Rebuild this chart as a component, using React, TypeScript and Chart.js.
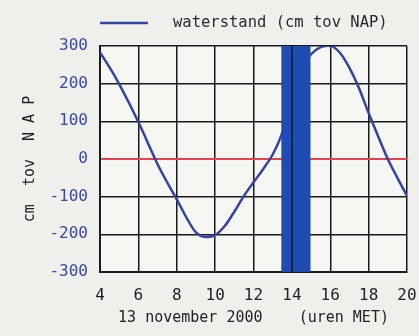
import { useEffect, useRef } from 'react';
import { Chart, registerables } from 'chart.js';

Chart.register(...registerables);

const hours = [4, 4.5, 5, 5.5, 6, 6.5, 7, 7.5, 8, 8.5, 9, 9.5, 10, 10.5, 11, 11.5, 12, 12.5, 13, 13.5, 14, 14.5, 15, 15.5, 16, 16.5, 17, 17.5, 18, 18.5, 19, 19.5, 20];
const waterstand = [283, 243, 199, 150, 98, 42, -14, -62, -107, -155, -195, -207, -202, -178, -140, -98, -62, -27, 12, 70, 165, 240, 278, 297, 301, 282, 242, 188, 122, 60, 0, -50, -98];
const xTickValues = [4, 6, 8, 10, 12, 14, 16, 18, 20];
const yTickValues = [-300, -200, -100, 0, 100, 200, 300];
const seriesLabel = 'waterstand (cm tov NAP)';
const xTitle = '13 november 2000    (uren MET)';
const yTitle = 'cm  tov  N A P';
const bandStart = 13.45;
const bandEnd = 14.97;

const MONO = '"DejaVu Sans Mono", monospace';
const GRID = '#1a1a1a';

export default function App() {
  const ref = useRef<HTMLCanvasElement>(null);

  useEffect(() => {
    document.body.style.margin = '0';
    const canvas = ref.current;
    if (!canvas) return;

    const bgPlugin = {
      id: 'bgBand',
      beforeDraw(chart: any) {
        const { ctx, chartArea } = chart;
        ctx.save();
        ctx.fillStyle = '#efefeb';
        ctx.fillRect(0, 0, chart.width, chart.height);
        ctx.fillStyle = '#f6f6f3';
        ctx.fillRect(chartArea.left, chartArea.top, chartArea.right - chartArea.left, chartArea.bottom - chartArea.top);
        ctx.restore();
      },
      afterDatasetsDraw(chart: any) {
        const { ctx, chartArea, scales } = chart;
        const x0 = scales.x.getPixelForValue(bandStart);
        const x1 = scales.x.getPixelForValue(bandEnd);
        ctx.save();
        ctx.fillStyle = '#1f4cb3';
        ctx.fillRect(x0, chartArea.top, x1 - x0, chartArea.bottom - chartArea.top);
        ctx.strokeStyle = GRID;
        ctx.lineWidth = 1.5;
        xTickValues
          .filter((v) => v > bandStart && v < bandEnd)
          .forEach((v) => {
            const px = scales.x.getPixelForValue(v);
            ctx.beginPath();
            ctx.moveTo(px, chartArea.top);
            ctx.lineTo(px, chartArea.bottom);
            ctx.stroke();
          });
        ctx.restore();
      },
    };

    const legendPlugin = {
      id: 'lineLegend',
      afterDraw(chart: any) {
        const { ctx, chartArea } = chart;
        const ds = chart.data.datasets[0];
        const y = 23;
        ctx.save();
        ctx.strokeStyle = ds.borderColor;
        ctx.lineWidth = 2.5;
        ctx.beginPath();
        ctx.moveTo(chartArea.left, y);
        ctx.lineTo(chartArea.left + 48, y);
        ctx.stroke();
        ctx.font = '15.5px ' + MONO;
        ctx.fillStyle = '#2a2a2a';
        ctx.textBaseline = 'middle';
        ctx.textAlign = 'left';
        ctx.fillText(ds.label, chartArea.left + 73, y);
        ctx.restore();
      },
    };

    const chart = new Chart(canvas, {
      type: 'line',
      data: {
        datasets: [
          {
            label: seriesLabel,
            data: hours.map((h, i) => ({ x: h, y: waterstand[i] })),
            borderColor: '#3343a3',
            backgroundColor: '#3343a3',
            borderWidth: 2.5,
            pointRadius: 0,
            cubicInterpolationMode: 'monotone',
            fill: false,
          },
        ],
      },
      options: {
        animation: false,
        responsive: false,
        layout: { padding: { top: 46, right: 0, left: 0, bottom: 0 } },
        plugins: {
          legend: { display: false },
          tooltip: { enabled: false },
        },
        scales: {
          x: {
            type: 'linear',
            min: 4,
            max: 20,
            afterBuildTicks(scale: any) {
              scale.ticks = xTickValues.map((v) => ({ value: v }));
            },
            afterFit(scale: any) {
              scale.height = 64;
              scale.paddingLeft = 0;
              scale.paddingRight = 12;
            },
            ticks: {
              color: '#222',
              font: { family: MONO, size: 16 },
              padding: 14,
              maxRotation: 0,
            },
            grid: { color: GRID, lineWidth: 1.5, drawTicks: false },
            border: { color: GRID, width: 2 },
            title: {
              display: true,
              text: xTitle,
              color: '#222',
              font: { family: MONO, size: 15 },
              padding: { top: 0, bottom: 9 },
            },
          },
          y: {
            type: 'linear',
            min: -300,
            max: 300,
            afterBuildTicks(scale: any) {
              scale.ticks = yTickValues.map((v) => ({ value: v }));
            },
            afterFit(scale: any) {
              scale.width = 100;
            },
            ticks: {
              color: '#3a48a8',
              font: { family: MONO, size: 16 },
              padding: 12,
            },
            grid: {
              color: (c: any) => (c.tick && c.tick.value === 0 ? '#e8404e' : GRID),
              lineWidth: (c: any) => (c.tick && c.tick.value === 0 ? 2 : 1.5),
              drawTicks: false,
            },
            border: { color: GRID, width: 2 },
            title: {
              display: true,
              text: yTitle,
              color: '#222',
              font: { family: MONO, size: 15 },
              padding: { top: 21, bottom: 0 },
            },
          },
        },
      },
      plugins: [bgPlugin, legendPlugin],
    } as any);

    return () => chart.destroy();
  }, []);

  return <canvas ref={ref} width={419} height={336} style={{ display: 'block' }} />;
}
